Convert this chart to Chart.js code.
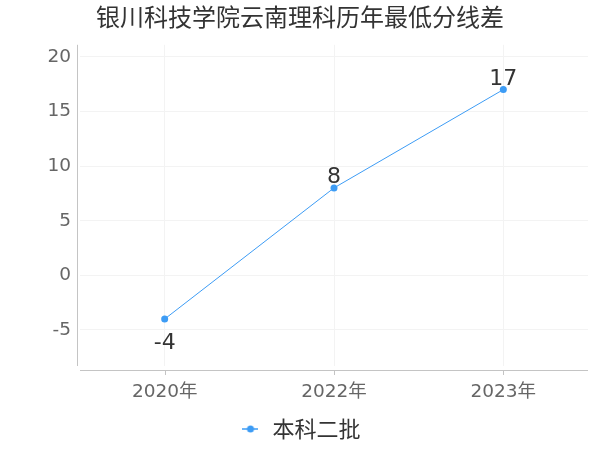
<!DOCTYPE html>
<html>
<head>
<meta charset="utf-8">
<script src="https://cdn.jsdelivr.net/npm/chart.js@4"></script>
<style>
  html, body { margin: 0; padding: 0; background: #fff; }
  #wrap { width: 600px; height: 450px; }
</style>
</head>
<body>
<div id="wrap"><canvas id="chart"></canvas></div>
<script>
const years = ['2020年', '2022年', '2023年'];
const diffs = [-4, 8, 17];
const yTicks = [-5, 0, 5, 10, 15, 20];
const seriesName = '本科二批';
const chartTitle = '银川科技学院云南理科历年最低分线差';

const blue = '#3d9cf5';
const font = '"DejaVu Sans", "Noto Sans CJK SC", sans-serif';
const cjkFont = '"Noto Sans CJK SC", "Noto Sans", sans-serif';

// legend marker: short line with a dot in the middle
const marker = document.createElement('canvas');
marker.width = 16; marker.height = 10;
const mctx = marker.getContext('2d');
mctx.strokeStyle = blue; mctx.lineWidth = 1.5;
mctx.beginPath(); mctx.moveTo(0, 5); mctx.lineTo(16, 5); mctx.stroke();
mctx.fillStyle = blue;
mctx.beginPath(); mctx.arc(8, 5, 3.5, 0, Math.PI * 2); mctx.fill();

// axis lines drawn a little away from the plot area, like the original
const axisLines = {
    id: 'axisLines',
    afterDraw(chart) {
        const { ctx, chartArea } = chart;
        const xs = chart.scales.x;
        ctx.save();
        ctx.strokeStyle = '#c4c4c4';
        ctx.lineWidth = 1;
        ctx.beginPath();
        ctx.moveTo(chartArea.left - 2.5, chartArea.top);
        ctx.lineTo(chartArea.left - 2.5, chartArea.bottom);
        ctx.moveTo(chartArea.left, chartArea.bottom + 4.5);
        ctx.lineTo(chartArea.right, chartArea.bottom + 4.5);
        for (let i = 0; i < years.length; i++) {
            const px = Math.round(xs.getPixelForValue(i)) + 0.5;
            ctx.moveTo(px, chartArea.bottom + 4.5);
            ctx.lineTo(px, chartArea.bottom + 9);
        }
        ctx.stroke();
        ctx.restore();
    }
};

const pointLabels = {
    id: 'pointLabels',
    afterDatasetsDraw(chart) {
        const { ctx } = chart;
        const meta = chart.getDatasetMeta(0);
        ctx.save();
        ctx.font = '22px ' + font;
        ctx.fillStyle = '#333';
        ctx.textAlign = 'center';
        ctx.textBaseline = 'alphabetic';
        meta.data.forEach((pt, i) => {
            const v = diffs[i];
            if (v < 0) {
                ctx.fillText(String(v), pt.x, pt.y + 30);
            } else {
                ctx.fillText(String(v), pt.x, pt.y - 5);
            }
        });
        ctx.restore();
    }
};

new Chart(document.getElementById('chart'), {
    type: 'line',
    data: {
        labels: years,
        datasets: [{
            label: seriesName,
            data: diffs,
            borderColor: blue,
            backgroundColor: blue,
            borderWidth: 1,
            pointRadius: 3.5,
            pointBackgroundColor: blue,
            pointBorderWidth: 0,
            tension: 0,
            pointStyle: 'circle'
        }]
    },
    options: {
        responsive: true,
        maintainAspectRatio: false,
        animation: false,
        layout: { padding: { left: 12, right: 12, top: 0, bottom: 0 } },
        plugins: {
            title: {
                display: true,
                text: chartTitle,
                color: '#333',
                font: { family: cjkFont, size: 24, weight: 'normal' },
                padding: { top: 2, bottom: 14 }
            },
            legend: {
                position: 'bottom',
                labels: {
                    usePointStyle: true,
                    pointStyle: marker,
                    color: '#333',
                    font: { family: cjkFont, size: 22 },
                    padding: 3
                }
            },
            tooltip: { enabled: false }
        },
        scales: {
            x: {
                offset: true,
                grid: { color: '#f3f3f3', drawTicks: false, offset: false },
                border: { display: false },
                ticks: { color: '#666', font: { family: font, size: 18.5 }, padding: 15 },
                afterFit(scale) { scale.height = 49; }
            },
            y: {
                min: -8.3,
                max: 21.1,
                grid: { color: '#f3f3f3', drawTicks: false },
                border: { display: false },
                afterBuildTicks(scale) {
                    scale.ticks = yTicks.map(v => ({ value: v }));
                },
                ticks: {
                    color: '#666',
                    font: { family: font, size: 18.5 },
                    padding: 9,
                    callback: v => String(v)
                },
                afterFit(scale) { scale.width = 68; }
            }
        }
    },
    plugins: [axisLines, pointLabels]
});
</script>
</body>
</html>
